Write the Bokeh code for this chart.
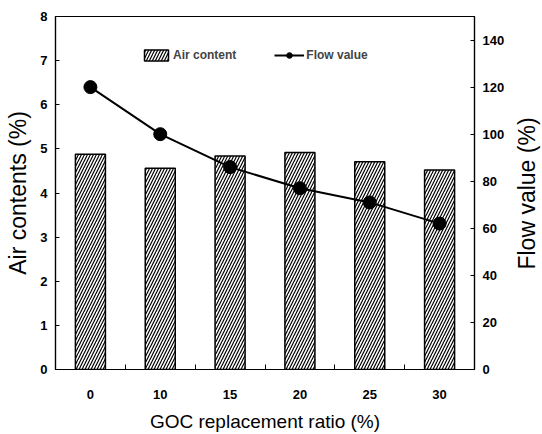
import math
import numpy as np
from bokeh.plotting import figure
from bokeh.models import Range1d, LinearAxis, FixedTicker, ColumnDataSource, Legend, LegendItem, Label
from bokeh.embed import file_html
from bokeh.resources import INLINE

categories = ["0", "10", "15", "20", "25", "30"]
air_content = [4.88, 4.56, 4.84, 4.92, 4.71, 4.52]
flow_value = [120, 100, 86, 77, 71, 62]
left_ticks = [0, 1, 2, 3, 4, 5, 6, 7, 8]
right_ticks = [0, 20, 40, 60, 80, 100, 120, 140]

xpos = list(range(len(categories)))
src = ColumnDataSource(dict(x=xpos, air=air_content, flow=flow_value))

p = figure(width=542, height=434, output_backend="svg", toolbar_location=None,
           x_range=Range1d(-0.5, len(categories) - 0.5), y_range=Range1d(0, 8),
           min_border_left=55, min_border_right=68, min_border_top=16, min_border_bottom=64)
p.extra_y_ranges = {"flow": Range1d(0, 150)}
p.grid.visible = False
p.outline_line_color = "black"
p.outline_line_width = 1.2
p.background_fill_color = "white"
p.border_fill_color = "white"

bars = p.vbar(x="x", top="air", width=0.43, source=src, fill_color="white",
              line_color="black", line_width=1.5, hatch_pattern="/", hatch_color="black",
              hatch_scale=6, hatch_weight=1.2)
line = p.line(x="x", y="flow", source=src, y_range_name="flow", line_color="black", line_width=2)
pts = p.scatter(x="x", y="flow", source=src, y_range_name="flow", size=13,
                fill_color="black", line_color="black")

font = "Liberation Sans"
xa = p.xaxis[0]
xa.ticker = FixedTicker(ticks=xpos, minor_ticks=[i + 0.5 for i in xpos[:-1]])
xa.major_label_overrides = {i: c for i, c in enumerate(categories)}
xa.axis_label = "GOC replacement ratio (%)"

ya = p.yaxis[0]
ya.ticker = FixedTicker(ticks=left_ticks)
ya.axis_label = "Air contents (%)"

ra = LinearAxis(y_range_name="flow", ticker=FixedTicker(ticks=right_ticks))
p.add_layout(ra, "right")

for ax in [xa, ya, ra]:
    ax.axis_line_color = "black"
    ax.axis_line_width = 1.2
    ax.major_tick_in = 4
    ax.major_tick_out = 0
    ax.minor_tick_line_color = "black" if ax is xa else None
    ax.major_label_text_font = font
    ax.major_label_text_font_style = "bold"
    ax.major_label_text_font_size = "13px"
    ax.major_label_text_color = "black"
    ax.axis_label_text_font = font
    ax.axis_label_text_font_style = "normal"
    ax.axis_label_text_font_size = "23px"
    ax.axis_label_text_color = "black"
xa.major_tick_line_color = None
xa.minor_tick_in = 5
xa.minor_tick_out = 0
xa.major_label_standoff = 20
xa.axis_label_standoff = 9
xa.axis_label_text_font_size = "19px"
ya.major_label_standoff = 8
ya.axis_label_standoff = 6
ra.major_label_standoff = 8

right_label = Label(x=19, y=176, x_units="screen", y_units="screen", text="Flow value (%)",
                    angle=math.pi / 2, text_align="center", text_baseline="middle",
                    text_font=font, text_font_size="23px", text_color="black")
p.add_layout(right_label, "right")

legend = Legend(items=[LegendItem(label="Air content", renderers=[bars]),
                       LegendItem(label="Flow value", renderers=[line, pts])],
                orientation="horizontal", location=(86, 307),
                border_line_color=None, background_fill_alpha=0,
                label_text_font=font, label_text_font_style="bold",
                label_text_font_size="12px", glyph_width=30, glyph_height=14,
                spacing=38, padding=2, label_standoff=2)
p.add_layout(legend)

open("out.html", "w").write(file_html(p, INLINE))
